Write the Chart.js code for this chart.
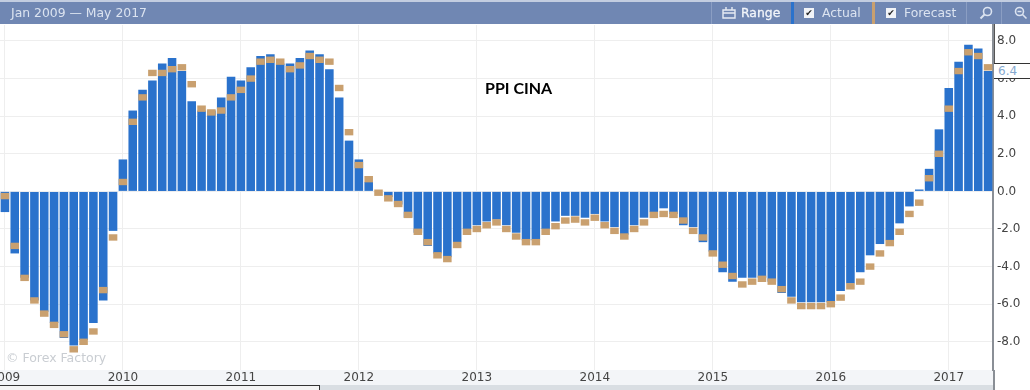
<!DOCTYPE html>
<html>
<head>
<meta charset="utf-8">
<script src="https://cdn.jsdelivr.net/npm/chart.js@4/dist/chart.umd.min.js"></script>
<style>
    html, body { margin: 0; padding: 0; background: #fff; overflow: hidden; }
    #wrap { position: relative; width: 1030px; height: 390px; font-family: "DejaVu Sans", sans-serif; }
    #lineChart { position: absolute; left: 0; top: 0; z-index: 2; }
    .abs { position: absolute; white-space: nowrap; }
    #topEdge { left: 0; top: 0; width: 1030px; height: 2px; background: #c3cde0; }
    #header { left: 0; top: 2px; width: 1030px; height: 22px; background: #7087b3; }
    .hd { top: 5px; font-size: 12.4px; line-height: 16px; color: #dbe3f0; z-index: 3; }
    .sep { top: 2px; width: 1px; height: 22px; background: #8b9ec3; z-index: 3; }
    .swatch { top: 2px; width: 3px; height: 22px; z-index: 3; }
    .check { top: 8px; width: 10px; height: 10px; background: #f1f3f7; color: #222; font-size: 9px; line-height: 10px; text-align: center; z-index: 3; }
    #xBand { left: 0; top: 370px; width: 993px; height: 15px; background: #f3f5f8; }
    #scroll { left: 0; top: 385px; width: 993px; height: 5px; background: #d9dee3; }
    #thumb { left: -2px; top: 385px; width: 320px; height: 5px; background: #f4f4f4; border: 1px solid #333; z-index: 3; }
    #axisRest { left: 993px; top: 370px; width: 2px; height: 20px; background: #8a8f96; z-index: 3; }
    #priceBox { left: 994px; top: 63px; width: 36px; height: 14px; background: #fff; border-top: 1px solid #333; border-bottom: 1px solid #333; z-index: 3; color: #86a9cf; font-size: 12px; line-height: 15px; text-indent: 4px; }
    #boxLeft { left: 994px; top: 24px; width: 1px; height: 39px; background: #555; z-index: 3; }
    #title { left: 485px; top: 79px; font: bold 16px Lato, sans-serif; line-height: 18px; color: #000; z-index: 3; }
    #mark { left: 6px; top: 351px; font-size: 12.5px; line-height: 14px; color: #c9cdd2; z-index: 3; }
</style>
</head>
<body>
<div id="wrap">
    <div class="abs" id="topEdge"></div>
    <div class="abs" id="header"></div>
    <div class="abs hd" style="left:11px">Jan 2009 — May 2017</div>
    <div class="abs sep" style="left:711px"></div>
    <svg class="abs" style="left:722px;top:6px;z-index:3" width="14" height="13" viewBox="0 0 14 13">
        <path d="M1 4h12v8H1zM1 7h12M4 1v3M10 1v3" fill="none" stroke="#e6ebf4" stroke-width="1.4"/>
    </svg>
    <div class="abs hd" style="left:741px;color:#f2f5fa;-webkit-text-stroke:0.3px #f2f5fa">Range</div>
    <div class="abs swatch" style="left:791px;background:#2a72cc"></div>
    <div class="abs check" style="left:804px">✔</div>
    <div class="abs hd" style="left:822px">Actual</div>
    <div class="abs swatch" style="left:872px;background:#c9a06f"></div>
    <div class="abs check" style="left:886px">✔</div>
    <div class="abs hd" style="left:904px">Forecast</div>
    <div class="abs sep" style="left:966px"></div>
    <svg class="abs" style="left:979px;top:6px;z-index:3" width="14" height="14" viewBox="0 0 14 14">
        <circle cx="8.5" cy="5.5" r="4" fill="none" stroke="#dbe3f0" stroke-width="1.6"/>
        <path d="M5.5 8.5L1.5 12.5" stroke="#dbe3f0" stroke-width="2"/>
    </svg>
    <div class="abs sep" style="left:1001px"></div>
    <svg class="abs" style="left:1014px;top:6px;z-index:3" width="14" height="14" viewBox="0 0 14 14">
        <circle cx="5.5" cy="5.5" r="4" fill="none" stroke="#dbe3f0" stroke-width="1.6"/>
        <path d="M8.5 8.5L12.5 12.5M3.5 5.5h4" stroke="#dbe3f0" stroke-width="1.6"/>
    </svg>

    <div class="abs" id="xBand"></div>
    <div class="abs" id="scroll"></div>
    <div class="abs" id="thumb"></div>
    <div class="abs" id="axisRest"></div>
    <div class="abs" id="boxLeft"></div>
    <div class="abs" id="priceBox">6.4</div>
    <div class="abs" id="title">PPI CINA</div>
    <div class="abs" id="mark">© Forex Factory</div>

    <canvas id="lineChart" width="1030" height="390"></canvas>
</div>

<script>
const years = [2009, 2010, 2011, 2012, 2013, 2014, 2015, 2016, 2017];
const months = ['Jan', 'Feb', 'Mar', 'Apr', 'May', 'Jun', 'Jul', 'Aug', 'Sep', 'Oct', 'Nov', 'Dec'];

// Jan 2009 - May 2017, one value per month
const actual = [
    -1.1, -3.3, -4.6, -5.8, -6.4, -7.0, -7.8, -8.2, -7.9, -7.0, -5.8, -2.1,
    1.7, 4.3, 5.4, 5.9, 6.8, 7.1, 6.4, 4.8, 4.3, 4.3, 5.0, 6.1,
    5.9, 6.6, 7.2, 7.3, 6.8, 6.8, 7.1, 7.5, 7.3, 6.5, 5.0, 2.7,
    1.7, 0.5, 0.0, -0.3, -0.7, -1.4, -2.2, -2.9, -3.3, -3.5, -2.7, -2.0,
    -1.8, -1.6, -1.5, -1.8, -2.2, -2.6, -2.6, -2.0, -1.6, -1.3, -1.3, -1.4,
    -1.2, -1.6, -1.9, -2.3, -1.8, -1.4, -1.1, -0.9, -1.2, -1.8, -1.9, -2.7,
    -3.2, -4.3, -4.8, -4.6, -4.6, -4.6, -4.8, -5.4, -5.6, -5.9, -5.9, -5.9,
    -5.9, -5.3, -4.9, -4.3, -3.4, -2.8, -2.6, -1.7, -0.8, 0.1, 1.2, 3.3,
    5.5, 6.9, 7.8, 7.6, 6.4
];
const forecast = [
    -0.25, -2.9, -4.6, -5.8, -6.5, -7.1, -7.6, -8.4, -8.0, -7.45, -5.25, -2.45,
    0.5, 3.7, 5.0, 6.3, 6.3, 6.5, 6.6, 5.7, 4.4, 4.2, 4.3, 5.0,
    5.4, 6.0, 6.9, 7.0, 6.9, 6.5, 6.7, 7.2, 7.0, 6.9, 5.5, 3.15,
    1.4, 0.65, -0.07, -0.37, -0.67, -1.25, -2.15, -2.7, -3.4, -3.6, -2.85, -2.15,
    -2.0, -1.8, -1.65, -2.0, -2.4, -2.7, -2.7, -2.15, -1.85, -1.55, -1.5, -1.65,
    -1.4, -1.8, -2.1, -2.4, -2.0, -1.65, -1.25, -1.2, -1.25, -1.55, -2.1, -2.45,
    -3.3, -3.9, -4.5, -4.95, -4.8, -4.65, -4.8, -5.2, -5.8, -6.1, -6.1, -6.1,
    -6.0, -5.65, -5.05, -4.8, -4.0, -3.3, -2.75, -2.15, -1.2, -0.6, 0.7, 2.0,
    4.4, 6.4, 7.4, 7.2, 6.6
];
const yTicks = [-8, -6, -4, -2, 0, 2, 4, 6, 8];

const categories = [];
years.forEach(y => months.forEach(m => {
    if (categories.length < actual.length) categories.push(m + ' ' + y);
}));

// forecast is shown as a short thick dash sitting on the value
const dash = 0.17;
const forecastBars = forecast.map(v => [v - dash, v + dash]);

const tickFont = { family: '"DejaVu Sans", sans-serif', size: 12 };

new Chart(document.getElementById('lineChart'), {
    type: 'bar',
    data: {
        labels: categories,
        datasets: [
            {
                label: 'Forecast',
                data: forecastBars,
                backgroundColor: '#c9a06f',
                grouped: false,
                order: 0,
                barPercentage: 0.87,
                categoryPercentage: 1
            },
            {
                label: 'Actual',
                data: actual,
                backgroundColor: '#2a72cc',
                grouped: false,
                order: 1,
                barPercentage: 0.87,
                categoryPercentage: 1
            }
        ]
    },
    options: {
        responsive: false,
        animation: false,
        layout: { padding: { top: 25, left: 0, right: 0, bottom: 0 } },
        plugins: { legend: { display: false }, title: { display: false } },
        scales: {
            x: {
                offset: true,
                grid: { offset: false, color: '#eeeeee', drawTicks: false },
                border: { display: false },
                ticks: {
                    autoSkip: false,
                    maxRotation: 0,
                    padding: 1,
                    color: '#444444',
                    font: tickFont,
                    callback: function (value) {
                        return this.getLabelForValue(value).slice(4);
                    }
                },
                afterBuildTicks: s => {
                    s.ticks = s.ticks.filter(t => categories[t.value].startsWith('Jan'));
                },
                afterFit: s => {
                    s.height = 20;
                    s.paddingLeft = 0;
                    s.paddingRight = 0;
                }
            },
            y: {
                position: 'right',
                min: -9.5,
                max: 8.85,
                grid: { color: '#eeeeee', drawTicks: false },
                border: { color: '#8a8f96', width: 2 },
                ticks: {
                    padding: 4,
                    color: '#444444',
                    font: tickFont,
                    callback: v => v.toFixed(1)
                },
                afterBuildTicks: s => {
                    s.ticks = yTicks.map(v => ({ value: v }));
                },
                afterFit: s => {
                    s.width = 37;
                    s.paddingTop = 0;
                    s.paddingBottom = 0;
                }
            }
        }
    }
});
</script>
</body>
</html>
